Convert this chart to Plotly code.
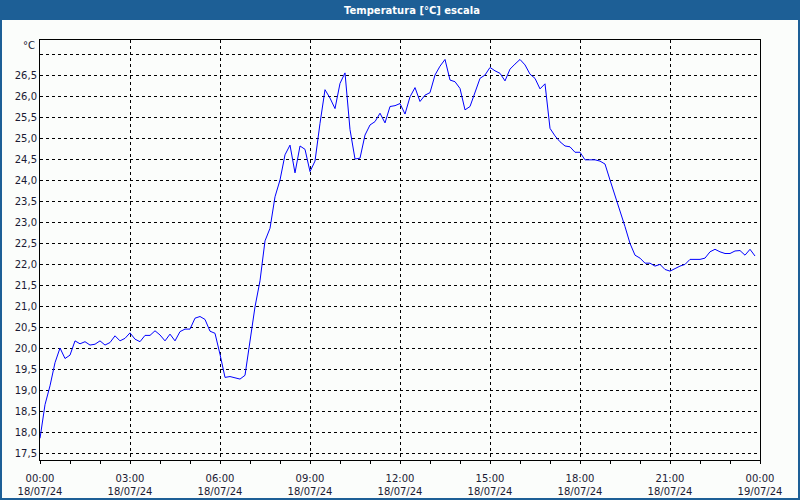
import plotly.graph_objects as go
import pandas as pd

# --- Data (10-minute samples, 18/07/24 00:00 .. 23:50) ---
temperature = [
    17.85, 18.65, 19.10, 19.65, 20.00, 19.75, 19.83, 20.17, 20.10, 20.15,
    20.07, 20.09, 20.17, 20.07, 20.13, 20.29, 20.17, 20.23, 20.36, 20.21,
    20.15, 20.30, 20.30, 20.41, 20.31, 20.17, 20.33, 20.17, 20.39, 20.45,
    20.45, 20.71, 20.75, 20.68, 20.40, 20.35, 19.85, 19.30, 19.32, 19.29,
    19.26, 19.35, 20.20, 20.98, 21.60, 22.55, 22.85, 23.60, 24.00, 24.60,
    24.83, 24.17, 24.81, 24.73, 24.20, 24.45, 25.35, 26.15, 25.95, 25.70,
    26.30, 26.55, 25.20, 24.50, 24.52, 25.07, 25.31, 25.39, 25.59, 25.36,
    25.75, 25.77, 25.82, 25.57, 25.98, 26.20, 25.87, 26.02, 26.08, 26.50,
    26.71, 26.87, 26.38, 26.34, 26.18, 25.67, 25.75, 26.10, 26.42, 26.50,
    26.68, 26.60, 26.54, 26.36, 26.64, 26.76, 26.87, 26.74, 26.52, 26.42,
    26.17, 26.29, 25.23, 25.05, 24.91, 24.81, 24.79, 24.66, 24.66, 24.48,
    24.48, 24.48, 24.45, 24.38, 24.00, 23.64, 23.29, 22.89, 22.49, 22.21,
    22.14, 22.02, 22.02, 21.95, 21.99, 21.87, 21.83, 21.90, 21.95, 21.99,
    22.11, 22.11, 22.11, 22.14, 22.29, 22.35, 22.29, 22.25, 22.25, 22.31,
    22.32, 22.21, 22.35, 22.19,
]
times = pd.date_range("2024-07-18 00:00", periods=len(temperature), freq="10min")

y_tickvals = [17.5, 18.0, 18.5, 19.0, 19.5, 20.0, 20.5, 21.0, 21.5, 22.0,
              22.5, 23.0, 23.5, 24.0, 24.5, 25.0, 25.5, 26.0, 26.5, 27.0]
y_ticktext = ["17,5", "18,0", "18,5", "19,0", "19,5", "20,0", "20,5", "21,0", "21,5", "22,0",
              "22,5", "23,0", "23,5", "24,0", "24,5", "25,0", "25,5", "26,0", "26,5", ""]

title_text = "Temperatura [°C] escala"
unit_text = "°C"

# --- Layout geometry (pixels) ---
W, H = 800, 500
L, R, T, B = 40, 760, 40, 460
pw, ph = R - L, B - T

def px(x):
    return (x - L) / pw

def py(y):
    return (B - y) / ph

BLUE = "#1d5f96"
BG = "#fbfdfb"
TXT = "#1a1a33"
FONT = "DejaVu Sans"

fig = go.Figure()
fig.add_trace(go.Scatter(
    x=times, y=temperature, mode="lines",
    line=dict(color="#0000ff", width=1),
    hoverinfo="skip", showlegend=False,
))

fig.update_layout(
    width=W, height=H,
    margin=dict(l=L, r=W - R, t=T, b=H - B, pad=0, autoexpand=False),
    paper_bgcolor=BG, plot_bgcolor=BG,
    font=dict(family=FONT, size=10, color=TXT),
    showlegend=False,
    xaxis=dict(
        range=["2024-07-18 00:00", "2024-07-19 00:00"],
        tick0="2024-07-18 00:00", dtick=3 * 3600 * 1000,
        tickformat="%H:%M<br>%d/%m/%y",
        ticks="outside", ticklen=3, tickcolor="black", tickwidth=1,
        ticklabelstandoff=6, automargin=False,
        showgrid=True, gridcolor="black", gridwidth=1, griddash="3px,3px",
        showline=True, linecolor="black", linewidth=1, mirror=True,
        zeroline=False, fixedrange=True,
        minor=dict(dtick=3600 * 1000, ticks="outside", ticklen=3,
                   tickcolor="black", showgrid=False),
        tickfont=dict(family=FONT, size=10, color=TXT),
    ),
    yaxis=dict(
        range=[17.5 - 7 / 42, 26.5 + 35 / 42],
        tickmode="array", tickvals=y_tickvals, ticktext=y_ticktext,
        ticks="", automargin=False,
        showgrid=True, gridcolor="black", gridwidth=1, griddash="3px,3px",
        showline=True, linecolor="black", linewidth=1, mirror=True,
        zeroline=False, fixedrange=True,
        tickfont=dict(family=FONT, size=10, color=TXT),
    ),
    shapes=[
        dict(type="rect", xref="paper", yref="paper",
             x0=px(0), x1=px(W), y0=py(20), y1=py(0),
             fillcolor=BLUE, line=dict(width=0), layer="above"),
        dict(type="rect", xref="paper", yref="paper",
             x0=px(1), x1=px(W - 1), y0=py(H - 1), y1=py(19),
             fillcolor="rgba(0,0,0,0)", line=dict(color=BLUE, width=2), layer="above"),
    ],
    annotations=[
        dict(text="<b>" + title_text + "</b>", xref="paper", yref="paper",
             x=px(412), y=py(10), xanchor="center", yanchor="middle",
             showarrow=False, font=dict(family=FONT, size=10, color="white")),
        dict(text=unit_text, xref="paper", yref="paper",
             x=px(37), y=py(46), xanchor="right", yanchor="middle",
             showarrow=False, font=dict(family=FONT, size=10, color=TXT)),
    ],
)

fig.write_html("out.html")
